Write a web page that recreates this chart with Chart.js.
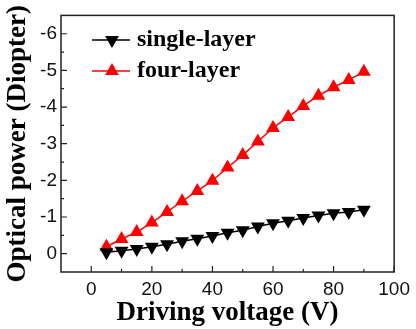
<!DOCTYPE html>
<html>
<head>
<meta charset="utf-8">
<script src="https://cdn.jsdelivr.net/npm/chart.js@4/dist/chart.umd.min.js"></script>
<style>
  html, body { margin: 0; padding: 0; background: #fff; }
  #wrap { width: 416px; height: 329px; }
</style>
</head>
<body>
<div id="wrap"><canvas id="powerChart"></canvas></div>
<script>
// data
const voltage = [5, 10, 15, 20, 25, 30, 35, 40, 45, 50, 55, 60, 65, 70, 75, 80, 85, 90];
const singleLayer = [-0.04, -0.08, -0.13, -0.19, -0.26, -0.34, -0.41, -0.48, -0.57, -0.64, -0.74, -0.83, -0.90, -0.97, -1.04, -1.10, -1.14, -1.20];
const fourLayer = [-0.19, -0.40, -0.59, -0.85, -1.14, -1.43, -1.71, -1.99, -2.35, -2.69, -3.06, -3.43, -3.73, -4.03, -4.31, -4.54, -4.74, -4.96];
const xTicks = [0, 20, 40, 60, 80, 100];
const yTicks = [0, -1, -2, -3, -4, -5, -6];
const seriesNames = ['single-layer', 'four-layer'];

const serif = '"Liberation Serif", "Times New Roman", serif';
const sans = '"Liberation Sans", Arial, sans-serif';

// frame + inward ticks (major and half-way minor)
const framePlugin = {
  id: 'frame',
  afterDraw(chart) {
    const { ctx, chartArea: a, scales } = chart;
    ctx.save();
    ctx.strokeStyle = '#222';
    ctx.lineWidth = 1.5;
    ctx.strokeRect(a.left, a.top, a.right - a.left, a.bottom - a.top);
    ctx.lineWidth = 1.2;
    ctx.beginPath();
    for (let i = 0; i < xTicks.length; i++) {
      const px = scales.x.getPixelForValue(xTicks[i]);
      ctx.moveTo(px, a.bottom); ctx.lineTo(px, a.bottom - 6);
      if (i < xTicks.length - 1) {
        const mx = scales.x.getPixelForValue((xTicks[i] + xTicks[i + 1]) / 2);
        ctx.moveTo(mx, a.bottom); ctx.lineTo(mx, a.bottom - 3);
      }
    }
    const yMinor = [0.5].concat(yTicks.map(v => v - 0.5));
    yTicks.forEach(v => {
      const py = scales.y.getPixelForValue(v);
      ctx.moveTo(a.left, py); ctx.lineTo(a.left + 6, py);
    });
    yMinor.forEach(v => {
      const py = scales.y.getPixelForValue(v);
      if (py > a.top + 1 && py < a.bottom - 1) {
        ctx.moveTo(a.left, py); ctx.lineTo(a.left + 3, py);
      }
    });
    ctx.stroke();
    ctx.restore();
  }
};

// legend inside the plot, top-left
const insideLegend = {
  id: 'insideLegend',
  afterDatasetsDraw(chart) {
    const { ctx } = chart;
    const rows = [40, 71];
    ctx.save();
    chart.data.datasets.forEach((ds, i) => {
      const y = rows[i];
      ctx.strokeStyle = ds.borderColor;
      ctx.lineWidth = 1.5;
      ctx.beginPath();
      ctx.moveTo(92, y); ctx.lineTo(130, y);
      ctx.stroke();
      ctx.fillStyle = ds.pointBackgroundColor;
      ctx.strokeStyle = ds.pointBorderColor;
      Chart.helpers.drawPoint(ctx, {
        pointStyle: ds.pointStyle, radius: ds.pointRadius,
        rotation: ds.pointRotation, borderWidth: 1
      }, 112, y);
      ctx.fillStyle = '#000';
      ctx.font = 'bold 24px ' + serif;
      ctx.textBaseline = 'middle';
      ctx.fillText(ds.label, 137, y);
    });
    ctx.restore();
  }
};

new Chart(document.getElementById('powerChart'), {
  type: 'line',
  data: {
    datasets: [
      {
        label: seriesNames[0],
        data: voltage.map((v, i) => ({ x: v, y: singleLayer[i] })),
        borderColor: '#000',
        borderWidth: 1.5,
        pointStyle: 'triangle',
        pointRotation: 180,
        pointRadius: 6.5,
        pointBackgroundColor: '#000',
        pointBorderColor: '#000'
      },
      {
        label: seriesNames[1],
        data: voltage.map((v, i) => ({ x: v, y: fourLayer[i] })),
        borderColor: '#ff0000',
        borderWidth: 1.5,
        pointStyle: 'triangle',
        pointRotation: 0,
        pointRadius: 6.5,
        pointBackgroundColor: '#ff0000',
        pointBorderColor: '#ff0000'
      }
    ]
  },
  options: {
    responsive: true,
    maintainAspectRatio: false,
    animation: false,
    layout: { padding: { top: 4, right: 21, left: 0, bottom: 0 } },
    plugins: { legend: { display: false }, tooltip: { enabled: false } },
    scales: {
      x: {
        type: 'linear',
        min: -10,
        max: 100,
        afterBuildTicks: s => { s.ticks = xTicks.map(v => ({ value: v })); },
        afterFit: s => { s.height = 57; },
        grid: { display: false, drawTicks: false },
        border: { display: false },
        ticks: { color: '#111', padding: 6, font: { family: sans, size: 19 } },
        title: {
          display: true, text: 'Driving voltage (V)', color: '#000',
          font: { family: serif, size: 27, weight: 'bold' }, padding: { top: 0, bottom: 0 }
        }
      },
      y: {
        min: -6.5,
        max: 0.5,
        reverse: true,
        afterBuildTicks: s => { s.ticks = yTicks.map(v => ({ value: v })); },
        afterFit: s => { s.width = 61; },
        grid: { display: false, drawTicks: false },
        border: { display: false },
        ticks: { color: '#111', padding: 4, font: { family: sans, size: 19 } },
        title: {
          display: true, text: 'Optical power (Diopter)', color: '#000',
          font: { family: serif, size: 27, weight: 'bold' }, padding: { top: 2, bottom: 0 }
        }
      }
    }
  },
  plugins: [framePlugin, insideLegend]
});
</script>
</body>
</html>
